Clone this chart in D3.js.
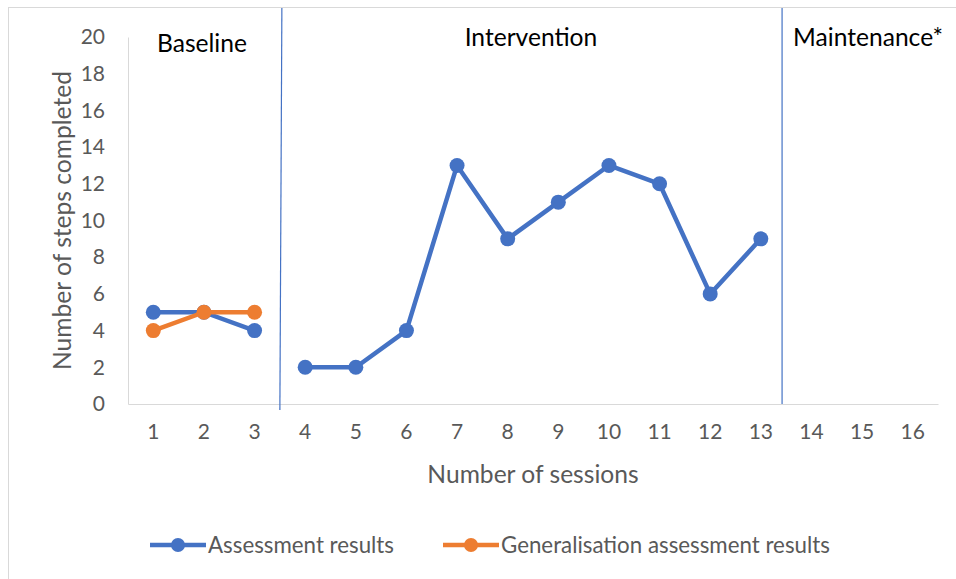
<!DOCTYPE html>
<html>
<head>
<meta charset="utf-8">
<script src="https://cdn.jsdelivr.net/npm/d3@7"></script>
<style>
  html, body { margin: 0; padding: 0; background: #fff; }
  svg { display: block; font-family: Lato, "Open Sans", sans-serif; }
</style>
</head>
<body>
<svg id="chart" width="956" height="579"></svg>
<script>
// Sessions on the x axis
const sessions = d3.range(1, 17);
// Assessment results per session (baseline 1-3, intervention 4-13)
const assessmentBaseline = [[1, 5], [2, 5], [3, 4]];
const assessmentIntervention = [[4, 2], [5, 2], [6, 4], [7, 13], [8, 9], [9, 11], [10, 13], [11, 12], [12, 6], [13, 9]];
// Generalisation assessment results (baseline only)
const generalisationBaseline = [[1, 4], [2, 5], [3, 5]];
// Y axis ticks
const yTicks = d3.range(0, 21, 2);
// Phase labels and the session positions where phases change
const phaseNames = ["Baseline", "Intervention", "Maintenance*"];
const phaseChanges = [3.5, 13.42];

const colors = { assessment: "#4472C4", generalisation: "#ED7D31" };

const svg = d3.select("#chart");
const plot = { left: 128, right: 938, top: 37, bottom: 404 };

// outer chart frame
svg.append("rect")
  .attr("x", 8.5).attr("y", 7.5)
  .attr("width", 980).attr("height", 600)
  .attr("fill", "#fff").attr("stroke", "#D9D9D9").attr("stroke-width", 1);

const x = d3.scaleBand().domain(sessions).range([plot.left, plot.right]);
const xc = s => x(s) + x.bandwidth() / 2;
// continuous position in session units (for phase change lines)
const xPos = s => plot.left + (s - 0.5) * x.bandwidth();
const y = d3.scaleLinear().domain([0, 20]).range([plot.bottom, plot.top]);

// Y axis
const yAxis = svg.append("g")
  .attr("transform", `translate(${plot.left},0)`)
  .call(d3.axisLeft(y).tickValues(yTicks).tickSize(0).tickPadding(23));
yAxis.select(".domain").attr("stroke", "#D9D9D9");
yAxis.selectAll("text")
  .attr("fill", "#595959").style("font-size", "21px")
  .style("font-family", "Lato, sans-serif");

// X axis
const xAxis = svg.append("g")
  .attr("transform", `translate(0,${plot.bottom})`)
  .call(d3.axisBottom(x).tickSize(0).tickPadding(20));
xAxis.select(".domain").attr("stroke", "#D9D9D9");
xAxis.selectAll("text")
  .attr("fill", "#595959").style("font-size", "21px")
  .style("font-family", "Lato, sans-serif");

// axis titles
svg.append("text")
  .attr("x", (plot.left + plot.right) / 2).attr("y", 483)
  .attr("text-anchor", "middle").attr("fill", "#595959")
  .style("font-size", "24.6px")
  .text("Number of sessions");

svg.append("text")
  .attr("transform", `translate(71,${(plot.top + plot.bottom) / 2}) rotate(-90)`)
  .attr("text-anchor", "middle").attr("fill", "#595959")
  .style("font-size", "24.6px")
  .text("Number of steps completed");

// phase change lines
svg.selectAll(".phase-line")
  .data(phaseChanges)
  .join("line")
  .attr("class", "phase-line")
  .attr("x1", d => xPos(d) + (d < 5 ? 2 : 0)).attr("x2", d => xPos(d))
  .attr("y1", 8).attr("y2", (d, i) => i === 0 ? 410 : plot.bottom)
  .attr("stroke", colors.assessment).attr("stroke-width", 1.2);

// phase labels
const phaseLabel = svg.append("g").attr("fill", "#000").style("font-size", "24.6px");
phaseLabel.append("text").attr("x", plot.left + 29).attr("y", 52).text(phaseNames[0]);
phaseLabel.append("text").attr("x", (xPos(phaseChanges[0]) + xPos(phaseChanges[1])) / 2)
  .attr("y", 46).attr("text-anchor", "middle").text(phaseNames[1]);
phaseLabel.append("text").attr("x", xPos(phaseChanges[1]) + 11).attr("y", 46).text(phaseNames[2]);

// series
const line = d3.line().x(d => xc(d[0])).y(d => y(d[1]));

function drawSeries(data, color) {
  svg.append("path")
    .datum(data)
    .attr("d", line)
    .attr("fill", "none").attr("stroke", color)
    .attr("stroke-width", 4.5).attr("stroke-linejoin", "round");
  svg.append("g").selectAll("circle")
    .data(data)
    .join("circle")
    .attr("cx", d => xc(d[0])).attr("cy", d => y(d[1]))
    .attr("r", 7.5).attr("fill", color);
}

drawSeries(assessmentBaseline, colors.assessment);
drawSeries(assessmentIntervention, colors.assessment);
drawSeries(generalisationBaseline, colors.generalisation);

// legend
const legendItems = [
  { name: "Assessment results", color: colors.assessment, x: 150 },
  { name: "Generalisation assessment results", color: colors.generalisation, x: 443 }
];
const legend = svg.append("g");
legendItems.forEach(item => {
  const g = legend.append("g").attr("transform", `translate(${item.x},545)`);
  g.append("line").attr("x1", 0).attr("x2", 56).attr("y1", 0).attr("y2", 0)
    .attr("stroke", item.color).attr("stroke-width", 4.5);
  g.append("circle").attr("cx", 28).attr("cy", 0).attr("r", 7).attr("fill", item.color);
  g.append("text").attr("x", 58).attr("y", 8).attr("fill", "#595959")
    .style("font-size", "22.3px").text(item.name);
});
</script>
</body>
</html>
